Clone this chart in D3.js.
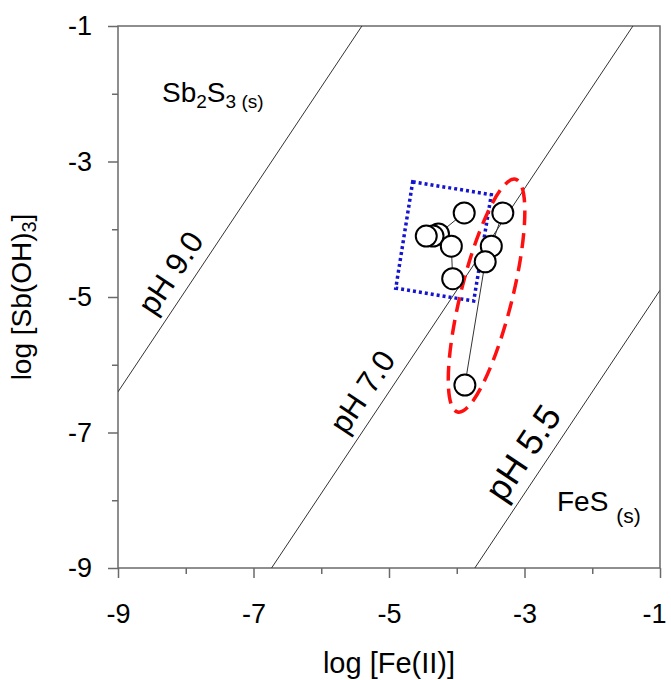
<!DOCTYPE html>
<html>
<head>
<meta charset="utf-8">
<script src="https://cdn.jsdelivr.net/npm/d3@7"></script>
<style>
  body { margin: 0; background: #fff; }
  text { font-family: "Liberation Sans", Arial, sans-serif; }
</style>
</head>
<body>
<div id="chart"></div>
<script>
// axis ticks
const majorTicks = [-9, -7, -5, -3, -1];
const minorTicks = [-8, -6, -4, -2];

// pH lines: log[Sb(OH)3] = 1.5 * log[Fe(II)] + intercept
const phSlope = 1.5;
const phIntercepts = [7.1, 1.1, -3.4];
const phNames = ["pH 9.0", "pH 7.0", "pH 5.5"];
const phLabelX = [-7.95, -5.12, -2.73];

// samples in the blue box (joined in order)
const boxFe = [-3.89, -4.27, -4.35, -4.45, -4.08, -4.06];
const boxSb = [-3.76, -4.07, -4.10, -4.10, -4.25, -4.73];

// samples in the red ellipse (joined in order)
const ellFe = [-3.32, -3.49, -3.58, -3.88];
const ellSb = [-3.76, -4.25, -4.48, -6.30];

// blue dotted box corners
const boxCornerFe = [-4.65, -3.49, -3.75, -4.90];
const boxCornerSb = [-3.30, -3.49, -5.06, -4.87];

// red dashed ellipse: centre, semi-axes (log units), tilt (deg)
const ellCentre = [-3.56, -4.98];
const ellRadii = [0.38, 1.77];
const ellTilt = 14;

// set the dimensions and margins of the graph
const margin = {top: 26, right: 11, bottom: 112, left: 118},
    width = 671 - margin.left - margin.right,
    height = 680 - margin.top - margin.bottom;

const svg = d3.select("#chart")
  .append("svg")
    .attr("width", width + margin.left + margin.right)
    .attr("height", height + margin.top + margin.bottom)
  .append("g")
    .attr("transform", `translate(${margin.left},${margin.top})`);

const x = d3.scaleLinear().domain([-9, -1]).range([0, width]);
const y = d3.scaleLinear().domain([-9, -1]).range([height, 0]);

const axisColor = "#6a6a6a";

// frame
svg.append("rect")
    .attr("x", 0).attr("y", 0)
    .attr("width", width).attr("height", height)
    .attr("fill", "none")
    .attr("stroke", axisColor)
    .attr("stroke-width", 1.5);

// axes
function styleAxis(g) {
  g.select(".domain").remove();
  g.selectAll(".tick line").attr("stroke", axisColor).attr("stroke-width", 1.5);
  g.selectAll(".tick text")
    .attr("fill", "#000")
    .style("font-size", "27px")
    .style("font-family", "\"Liberation Sans\", Arial, sans-serif");
}

const xAxis = svg.append("g")
    .attr("transform", `translate(0,${height})`)
    .call(d3.axisBottom(x).tickValues(majorTicks).tickSize(10).tickPadding(26).tickFormat(d => "-" + Math.abs(d)))
    .call(styleAxis);
// last label sits against the right edge of the picture
xAxis.selectAll(".tick text").filter(d => d === -1).attr("dx", -6);

svg.append("g")
    .attr("transform", `translate(0,${height})`)
    .call(d3.axisBottom(x).tickValues(minorTicks).tickSize(6).tickFormat(""))
    .call(styleAxis);
svg.append("g")
    .call(d3.axisLeft(y).tickValues(majorTicks).tickSize(10).tickPadding(16).tickFormat(d => "-" + Math.abs(d)))
    .call(styleAxis);
svg.append("g")
    .call(d3.axisLeft(y).tickValues(minorTicks).tickSize(6).tickFormat(""))
    .call(styleAxis);

// axis titles
svg.append("text")
    .attr("text-anchor", "middle")
    .attr("x", width / 2)
    .attr("y", height + 105)
    .style("font-size", "29px")
    .text("log [Fe(II)]");

const yTitle = svg.append("text")
    .attr("text-anchor", "middle")
    .attr("transform", `translate(${-margin.left + 31},${height / 2}) rotate(-90)`)
    .style("font-size", "28px");
yTitle.append("tspan").text("log [Sb(OH)");
yTitle.append("tspan").attr("dy", 5).style("font-size", "20px").text("3");
yTitle.append("tspan").attr("dy", -5).text("]");

// pH lines, clipped to the plot area
svg.append("clipPath").attr("id", "plotclip")
  .append("rect").attr("width", width).attr("height", height);

const lineG = svg.append("g").attr("clip-path", "url(#plotclip)");
phIntercepts.forEach(c => {
  lineG.append("line")
      .attr("x1", x(-9)).attr("y1", y(phSlope * -9 + c))
      .attr("x2", x(-1)).attr("y2", y(phSlope * -1 + c))
      .attr("stroke", "#333")
      .attr("stroke-width", 1);
});

// pH labels along the lines
const angle = -Math.atan(phSlope) * 180 / Math.PI;
phNames.forEach((name, i) => {
  const lx = phLabelX[i];
  const ly = phSlope * lx + phIntercepts[i];
  const big = i === 2;
  svg.append("text")
      .attr("transform", `translate(${x(lx)},${y(ly)}) rotate(${angle}) translate(0,${big ? -24 : -22})`)
      .attr("text-anchor", "middle")
      .attr("dominant-baseline", "central")
      .style("font-size", big ? "36px" : "31px")
      .text(name);
});

// phase labels
const sb = svg.append("text")
    .attr("x", x(-8.35)).attr("y", y(-2.12))
    .style("font-size", "28px");
sb.append("tspan").text("Sb");
sb.append("tspan").attr("dy", 6).style("font-size", "19px").text("2");
sb.append("tspan").attr("dy", -6).text("S");
sb.append("tspan").attr("dy", 6).style("font-size", "19px").text("3 (s)");

const fes = svg.append("text")
    .attr("x", x(-2.52)).attr("y", y(-8.16))
    .style("font-size", "28px");
fes.append("tspan").text("FeS ");
fes.append("tspan").attr("dy", 12).style("font-size", "21px").text("(s)");

// blue dotted box
const corners = boxCornerFe.map((d, i) => [x(d), y(boxCornerSb[i])]);
svg.append("path")
    .attr("d", d3.line()(corners) + "Z")
    .attr("fill", "none")
    .attr("stroke", "#1515d0")
    .attr("stroke-width", 3.5)
    .attr("stroke-dasharray", "3,3");

// red dashed ellipse
svg.append("ellipse")
    .attr("cx", x(ellCentre[0])).attr("cy", y(ellCentre[1]))
    .attr("rx", x(-9 + ellRadii[0]) - x(-9))
    .attr("ry", y(-9) - y(-9 + ellRadii[1]))
    .attr("transform", `rotate(${ellTilt},${x(ellCentre[0])},${y(ellCentre[1])})`)
    .attr("fill", "none")
    .attr("stroke", "#ff1010")
    .attr("stroke-width", 3.5)
    .attr("stroke-dasharray", "15,8");

// sample traces and points
const line = d3.line().x(d => x(d[0])).y(d => y(d[1]));
const groups = [
  boxFe.map((d, i) => [d, boxSb[i]]),
  ellFe.map((d, i) => [d, ellSb[i]])
];
groups.forEach(pts => {
  svg.append("path")
      .attr("d", line(pts))
      .attr("fill", "none")
      .attr("stroke", "#333")
      .attr("stroke-width", 1);
});
groups.forEach(pts => {
  svg.selectAll(null)
    .data(pts)
    .join("circle")
      .attr("cx", d => x(d[0]))
      .attr("cy", d => y(d[1]))
      .attr("r", 10.5)
      .attr("fill", "#fff")
      .attr("stroke", "#000")
      .attr("stroke-width", 2);
});
</script>
</body>
</html>
